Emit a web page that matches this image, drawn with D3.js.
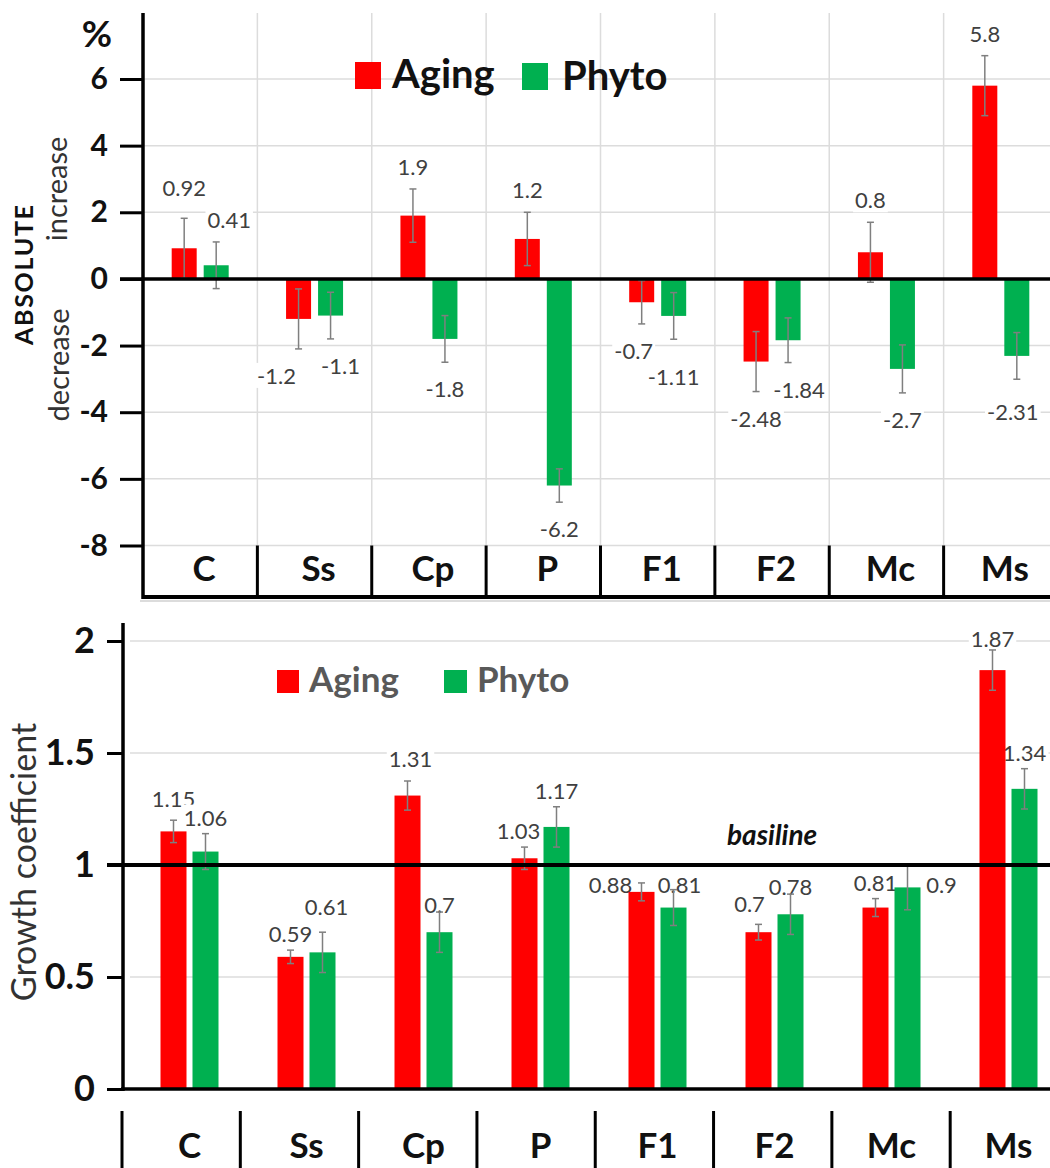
<html>
<head>
<meta charset="utf-8">
<script src="https://cdn.jsdelivr.net/npm/d3@7"></script>
<style>
  body { margin: 0; background: white; }
  text { font-family: Lato, "Open Sans", sans-serif; }
</style>
</head>
<body>
<div id="chart"></div>
<script>
    // categories
    var cats = ['C', 'Ss', 'Cp', 'P', 'F1', 'F2', 'Mc', 'Ms'];

    // top panel: absolute change, %
    var absAging    = [0.92, -1.2, 1.9, 1.2, -0.7, -2.48, 0.8, 5.8];
    var absPhyto    = [0.41, -1.1, -1.8, -6.2, -1.11, -1.84, -2.7, -2.31];
    var absAgingErr = [0.9, 0.9, 0.8, 0.8, 0.65, 0.9, 0.9, 0.9];
    var absPhytoErr = [0.7, 0.7, 0.7, 0.5, 0.7, 0.67, 0.72, 0.7];
    var absTicks    = [6, 4, 2, 0, -2, -4, -6, -8];

    // bottom panel: growth coefficient
    var growAging    = [1.15, 0.59, 1.31, 1.03, 0.88, 0.7, 0.81, 1.87];
    var growPhyto    = [1.06, 0.61, 0.7, 1.17, 0.81, 0.78, 0.9, 1.34];
    var growAgingErr = [0.05, 0.03, 0.065, 0.05, 0.04, 0.035, 0.04, 0.09];
    var growPhytoErr = [0.08, 0.09, 0.09, 0.09, 0.08, 0.09, 0.1, 0.09];
    var growTicks    = [0, 0.5, 1, 1.5, 2];

    var RED = '#ff0000', GREEN = '#00b050', ERR = '#7f7f7f', GRID = '#dcdcdc';
    var W = 1050, H = 1168;

    // hand-placed label offsets, like in the original spreadsheet
    var topNudge = {'Aging-C': [0, -8], 'Phyto-C': [13, 0], 'Aging-Ss': [-22, 0], 'Phyto-Ss': [10, 0],
                    'Aging-F1': [-8, 0], 'Phyto-F1': [0, 11], 'Phyto-F2': [11, 0], 'Phyto-Ms': [-4, 6]};
    var botNudge = {'Aging-C': [0, -5], 'Phyto-Ss': [4, -9], 'Aging-Cp': [3, -6], 'Phyto-Cp': [0, 9],
                    'Aging-P': [-6, 0], 'Aging-F1': [-31, 18], 'Phyto-F1': [6, 11], 'Aging-F2': [-9, -4],
                    'Phyto-F2': [0, 9], 'Phyto-Mc': [34, 36], 'Aging-Ms': [0, 5]};

    var svg = d3.select('#chart')
            .append('svg')
            .attr('width', W)
            .attr('height', H);

    function rows(a, b, ea, eb) {
        var out = [];
        cats.forEach(function(c, i) {
            out.push({cat: c, s: 'Aging', v: a[i], e: ea[i], color: RED, off: -16});
            out.push({cat: c, s: 'Phyto', v: b[i], e: eb[i], color: GREEN, off: 16});
        });
        return out;
    }

    function addBoxes(g) {
        g.selectAll('text').each(function() {
            var bb = this.getBBox();
            d3.select(this.parentNode).insert('rect', 'text')
                .attr('x', bb.x - 2).attr('y', bb.y + 1)
                .attr('width', bb.width + 4).attr('height', bb.height - 2)
                .attr('fill', 'white');
        });
    }

    function errorBars(g, data, x, y) {
        var eb = g.selectAll('.err').data(data).enter().append('g')
            .attr('stroke', ERR).attr('stroke-width', 1.5);
        eb.append('line')
            .attr('x1', x).attr('x2', x)
            .attr('y1', function(d) { return y(d.v - d.e); })
            .attr('y2', function(d) { return y(d.v + d.e); });
        [-1, 1].forEach(function(k) {
            eb.append('line')
                .attr('x1', function(d) { return x(d) - 3.5; })
                .attr('x2', function(d) { return x(d) + 3.5; })
                .attr('y1', function(d) { return y(d.v + k * d.e); })
                .attr('y2', function(d) { return y(d.v + k * d.e); });
        });
    }

    // ================= TOP PANEL =================
    var xT = d3.scaleBand().domain(cats).range([143, 1058]);
    var yT = d3.scaleLinear().domain([-8, 6]).range([545.5, 79]);
    var gTop = svg.append('g');
    var topData = rows(absAging, absPhyto, absAgingErr, absPhytoErr);
    function cxT(d) { return xT(d.cat) + xT.bandwidth() / 2 + d.off; }

    // grid
    gTop.selectAll('.hg').data(absTicks.filter(function(t) { return t !== 0; }))
        .enter().append('line')
        .attr('x1', 143).attr('x2', W)
        .attr('y1', function(d) { return yT(d); }).attr('y2', function(d) { return yT(d); })
        .attr('stroke', GRID).attr('stroke-width', 1.5);
    gTop.selectAll('.vg').data(cats.slice(1))
        .enter().append('line')
        .attr('x1', function(d) { return xT(d); }).attr('x2', function(d) { return xT(d); })
        .attr('y1', 13).attr('y2', yT(-8))
        .attr('stroke', GRID).attr('stroke-width', 1.5);

    // data labels (white boxes cut the grid)
    var tl = gTop.selectAll('.lab').data(topData).enter().append('g');
    tl.append('text')
        .attr('x', function(d) {
            var n = topNudge[d.s + '-' + d.cat] || [0, 0];
            return cxT(d) + n[0];
        })
        .attr('y', function(d) {
            var n = topNudge[d.s + '-' + d.cat] || [0, 0];
            return (d.v >= 0 ? yT(d.v + d.e) - 14 : yT(d.v - d.e) + 35) + n[1];
        })
        .attr('text-anchor', 'middle')
        .attr('font-size', 22).attr('fill', '#404040')
        .text(function(d) { return String(d.v); });
    addBoxes(tl);

    // legend
    gTop.append('rect').attr('x', 355).attr('y', 62).attr('width', 26).attr('height', 27).attr('fill', RED);
    gTop.append('text').attr('x', 392).attr('y', 88).attr('font-size', 40).attr('font-weight', 'bold').attr('fill', '#111').text('Aging');
    gTop.append('rect').attr('x', 522).attr('y', 63).attr('width', 26).attr('height', 27).attr('fill', GREEN);
    gTop.append('text').attr('x', 562).attr('y', 90).attr('font-size', 40).attr('font-weight', 'bold').attr('fill', '#111').text('Phyto');

    // bars
    gTop.selectAll('.bar').data(topData).enter().append('rect')
        .attr('x', function(d) { return cxT(d) - 12.5; })
        .attr('width', 25)
        .attr('y', function(d) { return yT(Math.max(0, d.v)); })
        .attr('height', function(d) { return Math.abs(yT(d.v) - yT(0)); })
        .attr('fill', function(d) { return d.color; });
    errorBars(gTop, topData, cxT, yT);

    // y axis
    var ayT = gTop.append('g').attr('transform', 'translate(143,0)')
        .call(d3.axisLeft(yT).tickValues(absTicks).tickSize(23).tickPadding(12)
            .tickFormat(function(d) { return String(d); }));
    ayT.select('.domain').remove();
    ayT.selectAll('.tick line').attr('stroke', 'black').attr('stroke-width', 3);
    ayT.selectAll('.tick text').attr('font-size', 30).attr('font-weight', 'bold').attr('fill', '#111')
        .attr('font-family', 'Lato, sans-serif');
    gTop.append('line').attr('x1', 143).attr('x2', 143).attr('y1', 13).attr('y2', 599)
        .attr('stroke', 'black').attr('stroke-width', 3.5);
    gTop.append('line').attr('x1', 120).attr('x2', W).attr('y1', yT(0)).attr('y2', yT(0))
        .attr('stroke', 'black').attr('stroke-width', 3.5);

    // category strip
    gTop.append('line').attr('x1', 143).attr('x2', W).attr('y1', 597).attr('y2', 597)
        .attr('stroke', 'black').attr('stroke-width', 4);
    gTop.selectAll('.div').data(cats.slice(1)).enter().append('line')
        .attr('x1', function(d) { return xT(d); }).attr('x2', function(d) { return xT(d); })
        .attr('y1', yT(-8)).attr('y2', 597)
        .attr('stroke', 'black').attr('stroke-width', 3);
    gTop.selectAll('.cat').data(cats).enter().append('text')
        .attr('x', function(d) { return xT(d) + xT.bandwidth() / 2 + 4; })
        .attr('y', 581)
        .attr('text-anchor', 'middle').attr('font-size', 35).attr('font-weight', 'bold').attr('fill', '#111')
        .text(function(d) { return d; });

    // titles
    gTop.append('text').attr('x', 97).attr('y', 47).attr('text-anchor', 'middle')
        .attr('font-size', 37).attr('font-weight', 'bold').attr('fill', '#111').text('%');
    gTop.append('text').attr('transform', 'translate(33,275) rotate(-90)').attr('text-anchor', 'middle')
        .attr('font-size', 25).attr('font-weight', 'bold').attr('fill', '#111')
        .attr('textLength', 140).attr('lengthAdjust', 'spacing').text('ABSOLUTE');
    gTop.append('text').attr('transform', 'translate(67,189) rotate(-90)').attr('text-anchor', 'middle')
        .attr('font-size', 29).attr('fill', '#333').text('increase');
    gTop.append('text').attr('transform', 'translate(69,365) rotate(-90)').attr('text-anchor', 'middle')
        .attr('font-size', 29).attr('fill', '#333').text('decrease');

    svg.append('line').attr('x1', 140).attr('x2', W).attr('y1', 601).attr('y2', 601)
        .attr('stroke', '#d0d0d0').attr('stroke-width', 1.5);

    // ================= BOTTOM PANEL =================
    var xB = d3.scaleBand().domain(cats).range([131, 1067]);
    var xS = d3.scaleBand().domain(cats).range([122, 1068.5]);
    var yB = d3.scaleLinear().domain([0, 2]).range([1089, 641]);
    var gBot = svg.append('g');
    var botData = rows(growAging, growPhyto, growAgingErr, growPhytoErr);
    function cxB(d) { return xB(d.cat) + xB.bandwidth() / 2 + d.off; }

    gBot.selectAll('.hg').data([0.5, 1.5, 2]).enter().append('line')
        .attr('x1', 130).attr('x2', W)
        .attr('y1', function(d) { return yB(d); }).attr('y2', function(d) { return yB(d); })
        .attr('stroke', GRID).attr('stroke-width', 1.5);

    var bl = gBot.selectAll('.lab').data(botData).enter().append('g');
    bl.append('text')
        .attr('x', function(d) { var n = botNudge[d.s + '-' + d.cat] || [0, 0]; return cxB(d) + n[0]; })
        .attr('y', function(d) { var n = botNudge[d.s + '-' + d.cat] || [0, 0]; return yB(d.v + d.e) - 8 + n[1]; })
        .attr('text-anchor', 'middle')
        .attr('font-size', 22).attr('fill', '#404040')
        .text(function(d) { return String(d.v); });
    addBoxes(bl);

    // legend
    gBot.append('rect').attr('x', 277).attr('y', 670).attr('width', 22).attr('height', 23).attr('fill', RED);
    gBot.append('text').attr('x', 309).attr('y', 692).attr('font-size', 35).attr('font-weight', 'bold').attr('fill', '#595959').text('Aging');
    gBot.append('rect').attr('x', 444).attr('y', 670).attr('width', 23).attr('height', 23).attr('fill', GREEN);
    gBot.append('text').attr('x', 477).attr('y', 692).attr('font-size', 35).attr('font-weight', 'bold').attr('fill', '#595959').text('Phyto');

    gBot.selectAll('.bar').data(botData).enter().append('rect')
        .attr('x', function(d) { return cxB(d) - 13; })
        .attr('width', 26)
        .attr('y', function(d) { return yB(d.v); })
        .attr('height', function(d) { return yB(0) - yB(d.v); })
        .attr('fill', function(d) { return d.color; });
    errorBars(gBot, botData, cxB, yB);

    var ayB = gBot.append('g').attr('transform', 'translate(123,0)')
        .call(d3.axisLeft(yB).tickValues(growTicks).tickSize(16).tickPadding(12)
            .tickFormat(function(d) { return String(d); }));
    ayB.select('.domain').remove();
    ayB.selectAll('.tick line').attr('stroke', 'black').attr('stroke-width', 3);
    ayB.selectAll('.tick text').attr('font-size', 36).attr('font-weight', 'bold').attr('fill', '#111')
        .attr('font-family', 'Lato, sans-serif');
    gBot.append('line').attr('x1', 123).attr('x2', 123).attr('y1', 623).attr('y2', yB(0) + 2)
        .attr('stroke', 'black').attr('stroke-width', 3.5);
    gBot.append('line').attr('x1', 121).attr('x2', W).attr('y1', yB(0)).attr('y2', yB(0))
        .attr('stroke', 'black').attr('stroke-width', 3.5);
    // baseline at 1
    gBot.append('line').attr('x1', 107).attr('x2', W).attr('y1', yB(1)).attr('y2', yB(1))
        .attr('stroke', 'black').attr('stroke-width', 4);
    gBot.append('text').attr('x', 727).attr('y', 845)
        .attr('font-size', 28).attr('font-weight', 'bold').attr('font-style', 'italic').attr('fill', '#111')
        .text('basiline');

    // category strip
    gBot.selectAll('.div').data(cats).enter().append('line')
        .attr('x1', function(d) { return xS(d); }).attr('x2', function(d) { return xS(d); })
        .attr('y1', 1111).attr('y2', H)
        .attr('stroke', 'black').attr('stroke-width', 3);
    gBot.selectAll('.cat').data(cats).enter().append('text')
        .attr('x', function(d) { return xB(d) + xB.bandwidth() / 2; })
        .attr('y', 1158)
        .attr('text-anchor', 'middle').attr('font-size', 35).attr('font-weight', 'bold').attr('fill', '#111')
        .text(function(d) { return d; });

    gBot.append('text').attr('transform', 'translate(36,862) rotate(-90)').attr('text-anchor', 'middle')
        .attr('font-size', 34).attr('fill', '#333').text('Growth coefficient');
</script>
</body>
</html>
